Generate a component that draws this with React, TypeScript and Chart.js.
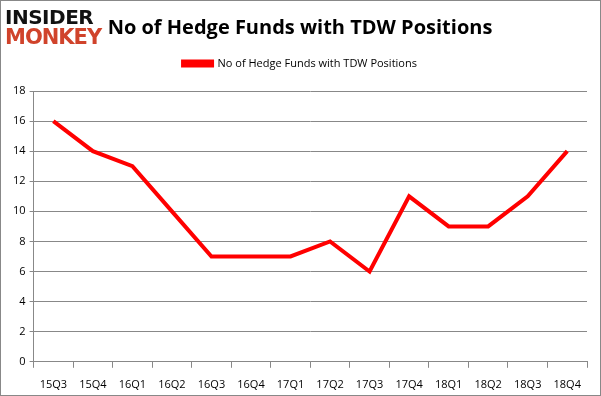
import React, { useEffect, useRef } from "react";
import { Chart, registerables } from "chart.js";

Chart.register(...registerables);

const categories = ["15Q3", "15Q4", "16Q1", "16Q2", "16Q3", "16Q4", "17Q1", "17Q2", "17Q3", "17Q4", "18Q1", "18Q2", "18Q3", "18Q4"];
const hedgeFunds = [16, 14, 13, 10, 7, 7, 7, 8, 6, 11, 9, 9, 11, 14];
const seriesLabel = "No of Hedge Funds with TDW Positions";
const titleText = "No of Hedge Funds with TDW Positions";

const FONT = "'Open Sans', 'DejaVu Sans', sans-serif";

const legendSpacer = {
  id: "legendSpacer",
  beforeInit(chart: any) {
    const orig = chart.legend.fit;
    chart.legend.fit = function () {
      orig.bind(this)();
      this.height += 12;
    };
  },
  afterLayout(chart: any) {
    const shift = 2;
    for (const box of [chart.titleBlock, chart.legend]) {
      if (box) {
        box.left += shift;
        box.right += shift;
      }
    }
  },
};

export default function App() {
  const ref = useRef<HTMLCanvasElement | null>(null);
  useEffect(() => {
    document.body.style.margin = "0";
    const ctx = ref.current!;
    const chart = new Chart(ctx, {
      type: "line",
      data: {
        labels: categories,
        datasets: [
          {
            label: seriesLabel,
            data: hedgeFunds,
            borderColor: "#ff0000",
            backgroundColor: "#ff0000",
            borderWidth: 4,
            pointRadius: 0,
            tension: 0,
          },
        ],
      },
      plugins: [legendSpacer],
      options: {
        animation: false,
        responsive: true,
        maintainAspectRatio: false,
        layout: { padding: { left: 8, right: 13, top: 0, bottom: -6 } },
        plugins: {
          title: {
            display: true,
            text: titleText,
            color: "#000",
            font: { family: FONT, size: 20, weight: "bold" },
            padding: { top: 15, bottom: 6 },
          },
          legend: {
            display: true,
            labels: {
              color: "#000",
              font: { family: FONT, size: 11 },
              boxWidth: 29,
              boxHeight: 4,
              padding: 12,
            },
          },
          tooltip: { enabled: false },
        },
        scales: {
          x: {
            offset: true,
            grid: {
              display: true,
              offset: true,
              drawOnChartArea: false,
              drawTicks: true,
              tickLength: 6,
              color: "#888",
            },
            border: { display: true, color: "#888" },
            ticks: { color: "#000", font: { family: FONT, size: 11 }, padding: 10, maxRotation: 0, autoSkip: false },
          },
          y: {
            min: 0,
            max: 18,
            ticks: { stepSize: 2, color: "#000", font: { family: FONT, size: 11 }, padding: 4 },
            grid: { color: "#888", tickLength: 4, drawTicks: true },
            border: { display: true, color: "#888" },
          },
        },
      },
    });
    return () => chart.destroy();
  }, []);
  return (
    <div style={{ position: "relative", width: 601, height: 396, border: "1px solid #888", boxSizing: "border-box", background: "#fff" }}>
      <canvas ref={ref} />
      <div style={{ position: "absolute", left: 4, top: 6, fontFamily: "'DejaVu Sans', sans-serif", fontWeight: 900, lineHeight: "20px", letterSpacing: "-0.5px" }}>
        <div style={{ color: "#111", fontSize: 20 }}>INSIDER</div>
        <div style={{ color: "#d0432b", fontSize: 21, letterSpacing: "-1px" }}>MONKEY</div>
      </div>
    </div>
  );
}
